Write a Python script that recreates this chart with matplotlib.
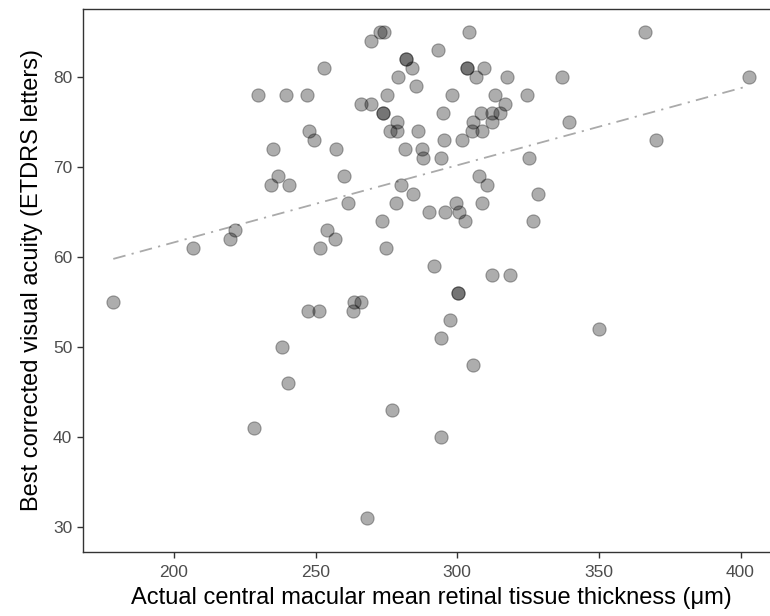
import numpy as np
import matplotlib.pyplot as plt

plt.rcParams['font.family'] = ['Liberation Sans', 'DejaVu Sans']

# central macular mean retinal thickness (um) and BCVA (ETDRS letters)
thickness = [178.6, 206.8, 219.8, 221.5, 228.2, 229.5, 234.2, 234.8, 236.6, 238.2,
             239.5, 240.1, 240.6, 246.8, 247.8, 249.4, 247.5, 251.2, 251.7, 253.0,
             254.1, 257.0, 257.1, 260.0, 261.3, 263.3, 263.5, 266.0, 266.0, 268.2,
             269.5, 269.7, 272.7, 274.2, 273.3, 273.8, 273.8, 274.7, 275.2, 276.4,
             276.8, 278.5, 278.8, 278.8, 279.0, 280.0, 281.6, 281.8, 281.8, 284.0,
             284.4, 285.4, 286.3, 287.6, 288.0, 290.1, 291.8, 293.2, 294.2, 294.3,
             294.4, 295.0, 295.3, 295.8, 297.3, 298.3, 299.5, 300.1, 300.1, 300.6,
             301.8, 302.6, 303.5, 303.5, 304.0, 305.2, 305.4, 305.6, 306.5, 307.7,
             308.3, 308.8, 308.8, 309.3, 310.5, 312.2, 312.2, 312.2, 313.5, 315.2,
             316.8, 317.4, 318.7, 324.5, 325.3, 326.9, 328.5, 337.0, 339.4, 350.0,
             366.1, 370.0, 402.9]
acuity = [55, 61, 62, 63, 41, 78, 68, 72, 69, 50,
          78, 46, 68, 78, 74, 73, 54, 54, 61, 81,
          63, 62, 72, 69, 66, 54, 55, 55, 77, 31,
          77, 84, 85, 85, 64, 76, 76, 61, 78, 74,
          43, 66, 75, 74, 80, 68, 72, 82, 82, 81,
          67, 79, 74, 72, 71, 65, 59, 83, 51, 71,
          40, 76, 73, 65, 53, 78, 66, 56, 56, 65,
          73, 64, 81, 81, 85, 74, 48, 75, 80, 69,
          76, 74, 66, 81, 68, 76, 75, 58, 78, 76,
          77, 80, 58, 78, 71, 64, 67, 80, 75, 52,
          85, 73, 80]

x = np.array(thickness)
y = np.array(acuity)
slope, intercept = np.polyfit(x, y, 1)
xfit = np.array([x.min(), x.max()])

fig = plt.figure(figsize=(7.7, 6.16), dpi=100)
ax = fig.add_axes([0.1074, 0.1039, 0.9066, 0.8823])

ax.scatter(x, y, s=90, c='black', alpha=0.32, linewidths=0.8, edgecolors='black', zorder=3)
ax.plot(xfit, intercept + slope * xfit, color='#aaaaaa', lw=1.3,
        dashes=(7, 3.5, 1.2, 3.5), zorder=2)

ax.set_xlim(167.8, 414.2)
ax.set_ylim(27.2, 87.6)
ax.set_xticks([200, 250, 300, 350, 400])
ax.set_yticks([30, 40, 50, 60, 70, 80])

for s in ax.spines.values():
    s.set_color('#333333')
    s.set_linewidth(1.0)
ax.tick_params(colors='#333333', length=4, width=1.0, labelsize=12.5,
               labelcolor='#4d4d4d')
ax.tick_params(axis='x', pad=5.5)

ax.set_xlabel('Actual central macular mean retinal tissue thickness (μm)',
              fontsize=17, labelpad=5)
ax.set_ylabel('Best corrected visual acuity (ETDRS letters)', fontsize=17, labelpad=7)

fig.savefig('out.png', dpi=100)
